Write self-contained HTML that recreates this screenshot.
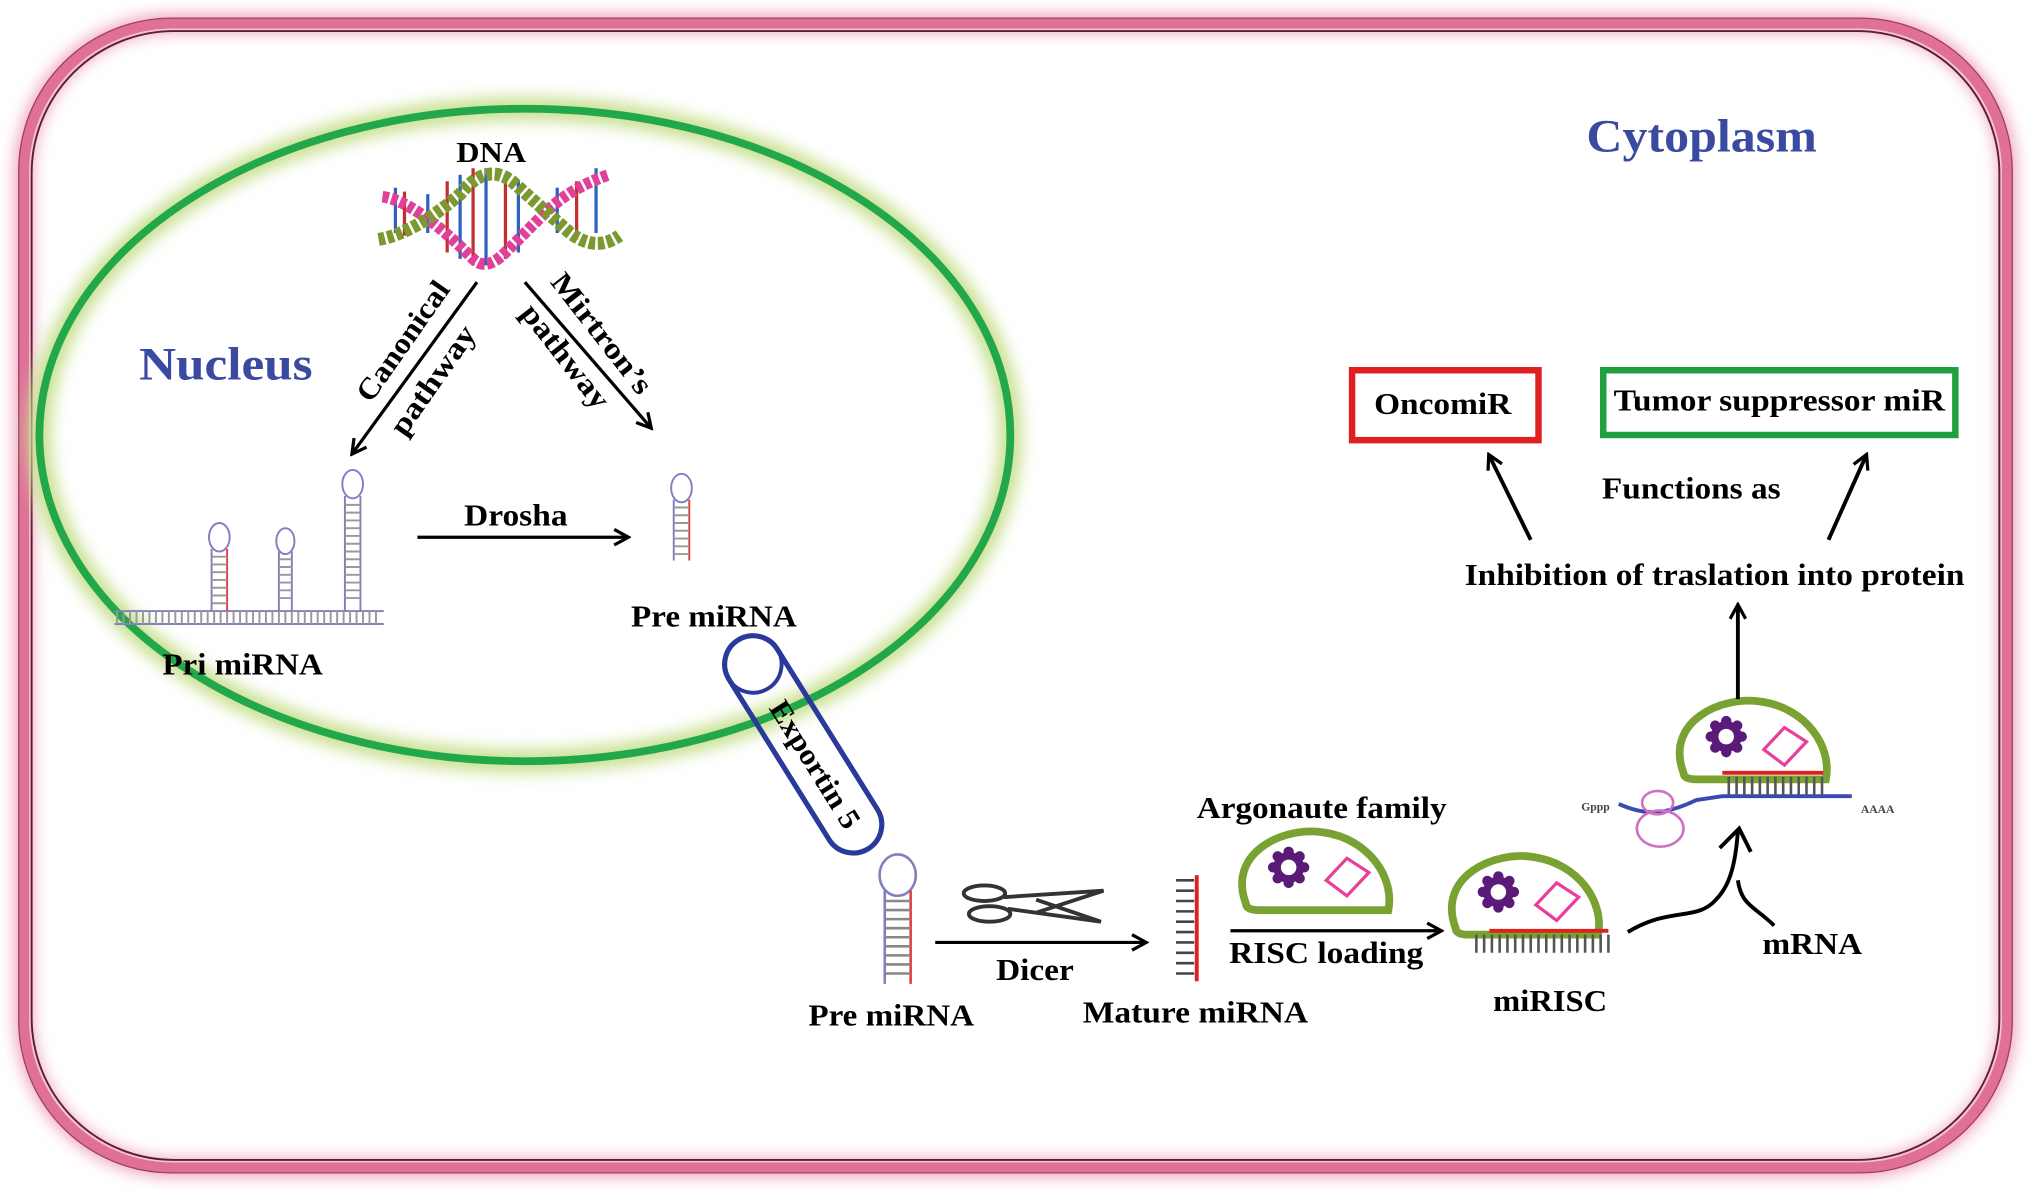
<!DOCTYPE html>
<html><head><meta charset="utf-8"><style>
html,body{margin:0;padding:0;background:#fff;}
svg{display:block;}
text{font-family:"Liberation Serif",serif;font-weight:bold;}
</style></head><body>
<svg width="2031" height="1191" viewBox="0 0 1568 920" xmlns="http://www.w3.org/2000/svg">
<defs>
<filter id="blur" x="-10%" y="-10%" width="120%" height="120%"><feGaussianBlur stdDeviation="6"/></filter>
<marker id="ah" markerWidth="14" markerHeight="14" refX="11" refY="7" orient="auto" markerUnits="userSpaceOnUse">
<path d="M1,1 L12,7 L1,13" fill="none" stroke="#000" stroke-width="2.5"/></marker>
<g id="ago">
<path d="M0,50 C-15,10 30,-10 60,-5 C95,0 115,30 110,55 L10,55 C3,55 0,53 0,50Z" fill="none" stroke="#7aa232" stroke-width="6"/>
<g transform="translate(33,22)"><circle r="12" fill="#5a1a78"/><circle r="6" fill="#fff"/>
<g fill="#5a1a78"><circle cx="0" cy="-12" r="4"/><circle cx="0" cy="12" r="4"/><circle cx="-12" cy="0" r="4"/><circle cx="12" cy="0" r="4"/><circle cx="8.5" cy="8.5" r="4"/><circle cx="-8.5" cy="8.5" r="4"/><circle cx="8.5" cy="-8.5" r="4"/><circle cx="-8.5" cy="-8.5" r="4"/></g></g>
<path d="M62,32 L78,15 L95,26 L78,44Z" fill="none" stroke="#e8409a" stroke-width="2.5"/>
</g>
</defs>
<rect x="0" y="0" width="1568" height="920" fill="#fff"/>
<rect x="18" y="18" width="1532" height="884" rx="115" fill="none" stroke="#f0a0b8" stroke-width="14" filter="url(#blur)"/>
<rect x="18" y="18" width="1532" height="884" rx="115" fill="none" stroke="#e07098" stroke-width="8"/>
<rect x="24" y="24" width="1520" height="872" rx="110" fill="none" stroke="#5a2030" stroke-width="1.5"/>
<rect x="14" y="14" width="1540" height="892" rx="118" fill="none" stroke="#a04060" stroke-width="1"/>
<ellipse cx="405" cy="336" rx="375" ry="252" fill="none" stroke="#c8e090" stroke-width="18" filter="url(#blur)"/>
<ellipse cx="405" cy="336" rx="375" ry="252" fill="none" stroke="#22a84a" stroke-width="6"/>
<g lengthAdjust="spacingAndGlyphs">
<text x="107" y="293" font-size="36" fill="#3a4aa0" textLength="134" lengthAdjust="spacingAndGlyphs">Nucleus</text>
<text x="1225" y="117" font-size="36" fill="#3a4aa0" textLength="178" lengthAdjust="spacingAndGlyphs">Cytoplasm</text>
<text x="352" y="125" font-size="22" textLength="54" lengthAdjust="spacingAndGlyphs">DNA</text>
</g>
<g>
<g stroke-width="2.5">
<line x1="305" y1="145" x2="305" y2="180" stroke="#3060c0"/><line x1="312" y1="148" x2="312" y2="182" stroke="#c03030"/>
<line x1="330" y1="150" x2="330" y2="180" stroke="#3060c0"/><line x1="345" y1="140" x2="345" y2="195" stroke="#c03030"/>
<line x1="355" y1="135" x2="355" y2="200" stroke="#3060c0"/><line x1="365" y1="130" x2="365" y2="205" stroke="#c03030"/>
<line x1="375" y1="130" x2="375" y2="205" stroke="#3060c0"/><line x1="390" y1="135" x2="390" y2="200" stroke="#c03030"/>
<line x1="400" y1="140" x2="400" y2="195" stroke="#3060c0"/><line x1="430" y1="145" x2="430" y2="180" stroke="#3060c0"/>
<line x1="445" y1="140" x2="445" y2="185" stroke="#c03030"/><line x1="460" y1="130" x2="460" y2="180" stroke="#3060c0"/>
</g>
<path d="M295,152 Q320,155 365,200 Q375,210 390,195 L420,165 Q440,145 470,135" fill="none" stroke="#e0409a" stroke-width="9" stroke-dasharray="5 2"/>
<path d="M292,185 Q320,180 355,150 Q375,125 395,140 L440,180 Q460,195 478,182" fill="none" stroke="#7a9a30" stroke-width="10" stroke-dasharray="5 2"/>
</g>
<line x1="368" y1="218" x2="272" y2="350" stroke="#000" stroke-width="2.5" marker-end="url(#ah)"/>
<line x1="405" y1="218" x2="502" y2="330" stroke="#000" stroke-width="2.5" marker-end="url(#ah)"/>
<text transform="translate(286,312) rotate(-55)" font-size="23" textLength="108" lengthAdjust="spacingAndGlyphs">Canonical</text>
<text transform="translate(312,338) rotate(-55)" font-size="23" textLength="98" lengthAdjust="spacingAndGlyphs">pathway</text>
<text transform="translate(424,218) rotate(52)" font-size="23" textLength="112" lengthAdjust="spacingAndGlyphs">Mirtron’s</text>
<text transform="translate(401,242) rotate(52)" font-size="23" textLength="96" lengthAdjust="spacingAndGlyphs">pathway</text>
<g stroke="#8080c0" fill="none" stroke-width="1.5">
<line x1="88" y1="472" x2="296" y2="472"/><line x1="88" y1="482" x2="296" y2="482"/>
<path d="M90,472 v10 M95,472 v10 M100,472 v10 M105,472 v10 M110,472 v10 M115,472 v10 M120,472 v10 M125,472 v10 M130,472 v10 M135,472 v10 M140,472 v10 M145,472 v10 M150,472 v10 M155,472 v10 M160,472 v10 M165,472 v10 M170,472 v10 M175,472 v10 M180,472 v10 M185,472 v10 M190,472 v10 M195,472 v10 M200,472 v10 M205,472 v10 M210,472 v10 M215,472 v10 M220,472 v10 M225,472 v10 M230,472 v10 M235,472 v10 M240,472 v10 M245,472 v10 M250,472 v10 M255,472 v10 M260,472 v10 M265,472 v10 M270,472 v10 M275,472 v10 M280,472 v10 M285,472 v10 M290,472 v10" stroke="#999"/>
<ellipse cx="169" cy="415" rx="8" ry="11"/><line x1="163" y1="424" x2="163" y2="472"/><line x1="175" y1="424" x2="175" y2="472" stroke="#e04040"/>
<ellipse cx="220" cy="418" rx="7" ry="10"/><line x1="215" y1="426" x2="215" y2="472"/><line x1="225" y1="426" x2="225" y2="472"/>
<ellipse cx="272" cy="374" rx="8" ry="11"/><line x1="266" y1="383" x2="266" y2="472"/><line x1="278" y1="383" x2="278" y2="472"/>
<path d="M163,430h12M163,436h12M163,442h12M163,448h12M163,454h12M163,460h12M163,466h12M215,432h10M215,438h10M215,444h10M215,450h10M215,456h10M215,462h10M266,390h12M266,396h12M266,402h12M266,408h12M266,414h12M266,420h12M266,426h12M266,432h12M266,438h12M266,444h12M266,450h12M266,456h12M266,462h12" stroke="#999"/>
</g>
<text x="125" y="521" font-size="24" textLength="124" lengthAdjust="spacingAndGlyphs">Pri miRNA</text>
<line x1="322" y1="415" x2="484" y2="415" stroke="#000" stroke-width="2.5" marker-end="url(#ah)"/>
<text x="358" y="406" font-size="24" textLength="80" lengthAdjust="spacingAndGlyphs">Drosha</text>
<g stroke="#8080c0" fill="none" stroke-width="1.5">
<ellipse cx="526" cy="377" rx="8" ry="11"/><line x1="520" y1="386" x2="520" y2="433"/><line x1="532" y1="386" x2="532" y2="433" stroke="#e04040"/>
<path d="M520,392h12M520,398h12M520,404h12M520,410h12M520,416h12M520,422h12M520,428h12" stroke="#999"/>
</g>
<text x="487" y="484" font-size="24" textLength="128" lengthAdjust="spacingAndGlyphs">Pre miRNA</text>
<g transform="translate(620,575) rotate(58)">
<rect x="-95" y="-22" width="190" height="44" rx="22" fill="none" stroke="#2a3a9a" stroke-width="4"/>
<ellipse cx="-73" cy="0" rx="22" ry="22" fill="none" stroke="#2a3a9a" stroke-width="3"/>
<text x="-38" y="8" font-size="23" textLength="112" lengthAdjust="spacingAndGlyphs">Exportin 5</text>
</g>
<g stroke="#8080c0" fill="none" stroke-width="2">
<ellipse cx="693" cy="676" rx="14" ry="16"/><line x1="683" y1="688" x2="683" y2="760"/><line x1="703" y1="688" x2="703" y2="760" stroke="#e04040"/>
<path d="M683,696h20M683,703h20M683,710h20M683,717h20M683,724h20M683,731h20M683,738h20M683,745h20M683,752h20" stroke="#888"/>
</g>
<text x="624" y="792" font-size="24" textLength="128" lengthAdjust="spacingAndGlyphs">Pre miRNA</text>
<g fill="none" stroke="#333" stroke-width="3">
<ellipse cx="760" cy="690" rx="16" ry="6"/><ellipse cx="764" cy="706" rx="16" ry="6"/>
<path d="M775,693 L852,688 L800,705 M778,702 L850,712 L800,695"/>
</g>
<line x1="722" y1="728" x2="884" y2="728" stroke="#000" stroke-width="2.5" marker-end="url(#ah)"/>
<text x="769" y="757" font-size="24" textLength="60" lengthAdjust="spacingAndGlyphs">Dicer</text>
<line x1="924" y1="676" x2="924" y2="758" stroke="#e02020" stroke-width="3"/>
<path d="M908,680h14M908,688h14M908,696h14M908,704h14M908,712h14M908,720h14M908,728h14M908,736h14M908,744h14M908,752h14" stroke="#444" stroke-width="2"/>
<text x="836" y="790" font-size="24" textLength="174" lengthAdjust="spacingAndGlyphs">Mature miRNA</text>
<text x="924" y="632" font-size="24" textLength="193" lengthAdjust="spacingAndGlyphs">Argonaute family</text>
<use href="#ago" transform="translate(962,648)"/>
<line x1="950" y1="719" x2="1112" y2="719" stroke="#000" stroke-width="2.5" marker-end="url(#ah)"/>
<text x="949" y="744" font-size="24" textLength="150" lengthAdjust="spacingAndGlyphs">RISC loading</text>
<use href="#ago" transform="translate(1124,667)"/>
<line x1="1150" y1="719" x2="1242" y2="719" stroke="#e02020" stroke-width="3"/>
<path d="M1140,722v14M1146,722v14M1152,722v14M1158,722v14M1164,722v14M1170,722v14M1176,722v14M1182,722v14M1188,722v14M1194,722v14M1200,722v14M1206,722v14M1212,722v14M1218,722v14M1224,722v14M1230,722v14M1236,722v14M1242,722v14" stroke="#555" stroke-width="2"/>
<text x="1153" y="781" font-size="24" textLength="88" lengthAdjust="spacingAndGlyphs">miRISC</text>
<path d="M1257,720 C1290,700 1310,712 1325,695 C1335,685 1340,670 1342,642" fill="none" stroke="#000" stroke-width="3"/>
<path d="M1342,680 C1345,700 1355,700 1370,715" fill="none" stroke="#000" stroke-width="3"/>
<path d="M1328,655 L1343,640 L1352,658" fill="none" stroke="#000" stroke-width="3"/>
<text x="1361" y="737" font-size="24" textLength="77" lengthAdjust="spacingAndGlyphs">mRNA</text>
<text x="1221" y="626" font-size="9" font-weight="normal" fill="#444">Gppp</text>
<text x="1437" y="628" font-size="9" font-weight="normal" fill="#444">AAAA</text>
<path d="M1250,621 C1270,630 1285,630 1310,618 L1330,615 L1430,615" fill="none" stroke="#3a4ab0" stroke-width="3"/>
<ellipse cx="1280" cy="620" rx="12" ry="9" fill="none" stroke="#d070c0" stroke-width="2"/>
<ellipse cx="1282" cy="640" rx="18" ry="14" fill="none" stroke="#d070c0" stroke-width="2"/>
<use href="#ago" transform="translate(1300,547)"/>
<line x1="1330" y1="597" x2="1408" y2="597" stroke="#e02020" stroke-width="3"/>
<path d="M1335,600v14M1341,600v14M1347,600v14M1353,600v14M1359,600v14M1365,600v14M1371,600v14M1377,600v14M1383,600v14M1389,600v14M1395,600v14M1401,600v14M1407,600v14" stroke="#555" stroke-width="2"/>
<line x1="1342" y1="540" x2="1342" y2="468" stroke="#000" stroke-width="3" marker-end="url(#ah)"/>
<text x="1131" y="452" font-size="24" textLength="386" lengthAdjust="spacingAndGlyphs">Inhibition of traslation into protein</text>
<text x="1237" y="385" font-size="24" textLength="138" lengthAdjust="spacingAndGlyphs">Functions as</text>
<line x1="1182" y1="417" x2="1150" y2="352" stroke="#000" stroke-width="3" marker-end="url(#ah)"/>
<line x1="1412" y1="417" x2="1441" y2="352" stroke="#000" stroke-width="3" marker-end="url(#ah)"/>
<rect x="1044" y="286" width="144" height="54" fill="none" stroke="#e02020" stroke-width="5"/>
<text x="1061" y="320" font-size="24" textLength="106" lengthAdjust="spacingAndGlyphs">OncomiR</text>
<rect x="1238" y="286" width="272" height="50" fill="none" stroke="#20a040" stroke-width="5"/>
<text x="1246" y="317" font-size="24" textLength="256" lengthAdjust="spacingAndGlyphs">Tumor suppressor miR</text>
</svg>
</body></html>
